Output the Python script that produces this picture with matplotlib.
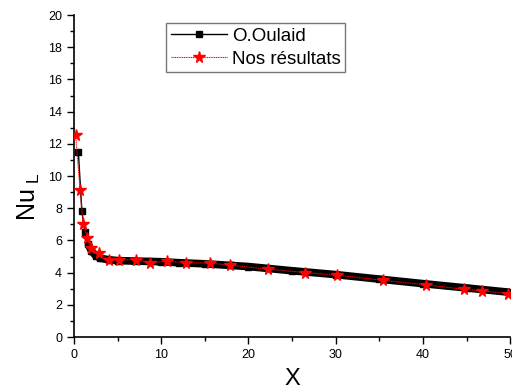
import matplotlib
matplotlib.use("Agg")
import matplotlib.pyplot as plt
from matplotlib.ticker import MultipleLocator

plt.rcParams['font.family'] = ['Liberation Sans', 'DejaVu Sans']

# O.Oulaid reference curve
oulaid_x = [0.5, 0.9, 1.25, 1.6, 2.0, 2.5, 3.0, 4.0, 5.0, 7.0, 10.0, 12.0, 15.0,
            18.0, 20.0, 25.0, 30.0, 35.0, 40.0, 45.0, 50.0]
oulaid_y = [11.5, 7.85, 6.5, 5.8, 5.35, 5.05, 4.9, 4.8, 4.75, 4.72, 4.68, 4.62, 4.55,
            4.45, 4.38, 4.12, 3.88, 3.6, 3.32, 3.05, 2.78]

# present results
nos_x = [0.19, 0.69, 1.07, 1.52, 1.9, 2.9, 4.04, 5.19, 7.1, 8.7, 10.7, 12.8, 15.6,
         17.9, 22.2, 26.5, 30.2, 35.4, 40.4, 44.7, 46.8, 49.7]
nos_y = [12.57, 9.16, 7.02, 6.13, 5.53, 5.21, 4.8, 4.8, 4.8, 4.63, 4.7, 4.63, 4.59,
         4.47, 4.22, 4.01, 3.84, 3.53, 3.24, 2.97, 2.87, 2.7]

fig = plt.figure(figsize=(5.12, 3.87), dpi=100)
ax = fig.add_axes([0.1445, 0.129, 0.852, 0.832])

# thick band for the smooth part of the reference curve
i0 = 3
ax.plot(oulaid_x[i0:], oulaid_y[i0:], color='black', lw=5.5, solid_capstyle='butt',
        solid_joinstyle='round', zorder=2)
ax.plot(oulaid_x, oulaid_y, color='black', lw=1, marker='s', ms=4.5,
        label='O.Oulaid', zorder=3)
ax.plot(nos_x, nos_y, color='red', lw=0.8, ls=(0, (1, 0.6)), marker='*', ms=8.5,
        label='Nos résultats', zorder=4)

ax.set_xlim(0, 50)
ax.set_ylim(0, 20)
ax.xaxis.set_major_locator(MultipleLocator(10))
ax.xaxis.set_minor_locator(MultipleLocator(5))
ax.yaxis.set_major_locator(MultipleLocator(2))
ax.yaxis.set_minor_locator(MultipleLocator(1))
ax.tick_params(which='both', direction='out', labelsize=9, width=1)
ax.tick_params(which='major', length=5)
ax.tick_params(which='minor', length=3)
ax.spines['top'].set_visible(False)
ax.spines['right'].set_visible(False)
for s in ('left', 'bottom'):
    ax.spines[s].set_linewidth(1.2)

ax.set_xlabel('X', fontsize=17, labelpad=5)
ax.set_ylabel(r'Nu$_{\mathregular{\ L}}$', fontsize=18)
ax.yaxis.set_label_coords(-0.073, 0.438)

leg = ax.legend(loc='upper left', bbox_to_anchor=(0.211, 0.975), fontsize=13.5,
                frameon=True, fancybox=False, edgecolor='#555555',
                handlelength=3.0, borderpad=0.25, labelspacing=0.3,
                handletextpad=0.25, borderaxespad=0)
leg.get_frame().set_linewidth(1.0)

fig.savefig('out.png', dpi=100)
